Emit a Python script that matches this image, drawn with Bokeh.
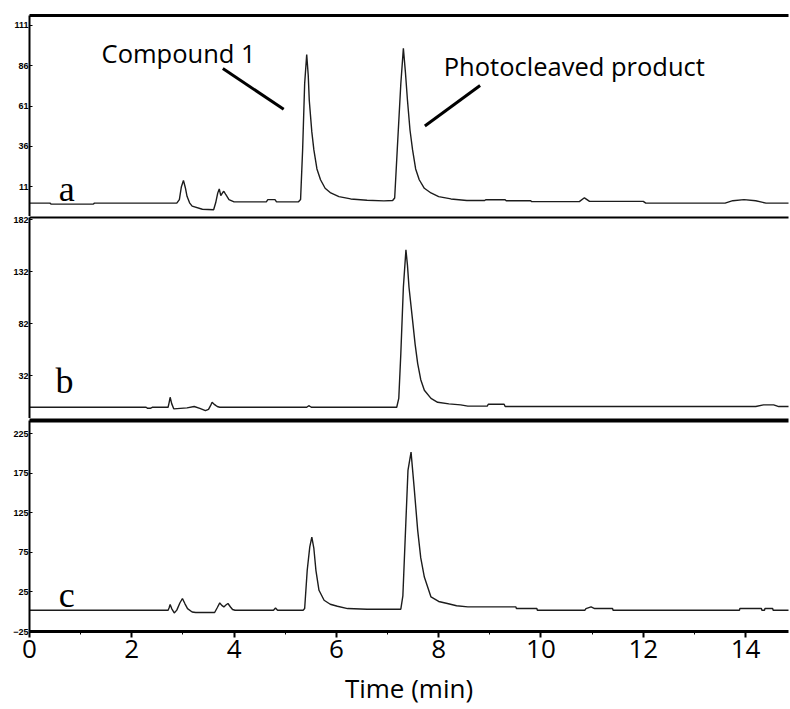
from bokeh.plotting import figure
from bokeh.models import Range1d, LinearAxis, FixedTicker, SingleIntervalTicker, Label, ColumnDataSource
from bokeh.layouts import column
from bokeh.embed import file_html
from bokeh.resources import INLINE

# ---------------- data ----------------
x_ticks_major = 2
time_range = [0, 14.84]

# trace a
time_a = [0, 0.40, 0.42, 1.25, 1.27, 2.88, 2.93, 2.97, 3.01, 3.05, 3.08, 3.13, 3.18, 3.38, 3.60,
          3.64, 3.68, 3.71, 3.74, 3.78, 3.80, 3.84, 3.90, 4.00, 4.63, 4.66, 4.80, 4.83, 5.26, 5.30,
          5.34, 5.38, 5.42, 5.45, 5.47, 5.52, 5.56, 5.62, 5.69, 5.78, 5.89, 6.05, 6.28, 6.60, 6.93,
          7.10, 7.14, 7.19, 7.26, 7.31, 7.35, 7.39, 7.44, 7.49, 7.55, 7.62, 7.72, 7.85, 8.00, 8.24,
          8.55, 8.90, 8.92, 9.30, 9.32, 9.80, 9.82, 10.75, 10.85, 10.95, 12.00, 12.05, 13.60, 13.75,
          13.97, 14.20, 14.40, 14.90]
signal_a = [0.8, 0.8, 0.2, 0.2, 0.8, 0.8, 3, 11, 14.9, 10, 5, 1, -1.1, -3.0, -3.3,
            1, 7, 9.6, 5.5, 7.5, 8.1, 6, 3, 1.6, 1.6, 3, 3, 1.6, 1.6, 3,
            33.8, 75, 93, 80, 64.6, 45, 33.8, 22, 15.3, 10, 7.1, 4.8, 3.4, 2.6, 2.2,
            2.4, 4, 33.8, 74.9, 96.8, 82, 64.6, 46, 33.8, 22, 15.3, 10, 7.1, 4.8, 3.4,
            2.4, 2.4, 2.9, 2.9, 2.3, 2.3, 1.7, 1.7, 4.1, 1.9, 1.9, 0.8, 0.8, 2.3,
            3.0, 2.3, 0.8, 0.8]

# trace b
time_b = [0, 2.28, 2.31, 2.36, 2.40, 2.71, 2.73, 2.75, 2.78, 2.82, 3.08, 3.22, 3.33, 3.44, 3.50,
          3.54, 3.57, 3.62, 3.67, 3.72, 5.42, 5.46, 5.51, 7.18, 7.22, 7.26, 7.31, 7.36, 7.39, 7.42,
          7.49, 7.54, 7.59, 7.65, 7.72, 7.85, 7.98, 8.20, 8.43, 8.57, 8.95, 8.97, 9.28, 9.30, 14.20,
          14.35, 14.55, 14.65, 14.90]
signal_b = [1.5, 1.5, 0.5, 0.5, 1.5, 1.5, 6, 11.1, 5, 0, 0.9, 2.2, 0.5, -1.7, -0.5,
            3, 6.3, 4, 2.2, 1.5, 1.5, 3.0, 1.5, 1.5, 10, 52.9, 116.9, 152.9, 138, 116.9,
            85.1, 62, 43.5, 28, 17.9, 10, 6.3, 4.8, 3.8, 2.6, 2.6, 4.4, 4.4, 2.2, 2.2,
            3.8, 3.8, 2.2, 2.2]

# trace c
time_c = [0, 2.71, 2.73, 2.75, 2.78, 2.83, 2.88, 2.94, 2.99, 3.04, 3.09, 3.18, 3.25, 3.62, 3.67,
          3.72, 3.76, 3.80, 3.84, 3.88, 3.93, 3.97, 4.02, 4.77, 4.81, 4.85, 5.35, 5.38, 5.43, 5.48,
          5.52, 5.56, 5.60, 5.66, 5.76, 5.88, 6.02, 6.22, 6.60, 7.26, 7.30, 7.36, 7.40, 7.46, 7.52,
          7.59, 7.65, 7.72, 7.85, 8.00, 8.17, 8.35, 8.57, 9.51, 9.52, 9.92, 9.93, 10.86, 10.88, 10.98,
          11.05, 11.40, 11.41, 13.88, 13.89, 14.31, 14.32, 14.37, 14.38, 14.53, 14.54, 14.90]
signal_c = [1.9, 1.9, 5, 9.1, 4, -1.5, 2, 11, 16.7, 10, 4, -0.3, -1, -1, 5,
            11.1, 8, 6.1, 8.5, 10.4, 6, 2.8, 1.9, 1.9, 4.8, 1.9, 1.9, 4, 52.4, 82,
            94.4, 80, 52.4, 27.1, 14.5, 9.5, 6.9, 4.0, 3.2, 3.2, 20, 115.5, 178.7, 201.8, 157.6,
            102.9, 68, 43.9, 18.7, 13, 10.4, 7.5, 6.1, 6.1, 4.0, 4.0, 1.9, 1.9, 4.0, 6.1,
            4.0, 4.0, 1.9, 1.9, 4.0, 4.0, 1.9, 1.9, 4.0, 4.0, 1.9, 1.9]

# y ranges and tick labels of the three panels
yrange_a = [-7.5, 117.2]
yticks_a = [11, 36, 61, 86, 111]
yrange_b = [-9.3, 184.0]
yticks_b = [32, 82, 132, 182]
yrange_c = [-25.0, 241.8]
yticks_c = [-25, 25, 75, 125, 175, 225]

panel_names = ["a", "b", "c"]
panel_name_x = [0.57, 0.51, 0.57]
panel_name_y = [9.7, 27.2, 20.7]

# annotations of panel a
ann_text = ["Compound 1", "Photocleaved product"]
ann_x = [1.41, 8.10]
ann_y = [94.0, 86.0]
lead_x0 = [3.78, 8.81]
lead_y0 = [84.3, 73.8]
lead_x1 = [4.97, 7.73]
lead_y1 = [59.0, 48.6]

# ---------------- plotting ----------------
W = 790
TRACE = "#1c1c1c"
xr = Range1d(*time_range)


def sep_axis(width):
    return LinearAxis(ticker=FixedTicker(ticks=[]), axis_line_width=width, axis_line_color="black",
                      major_tick_in=0, major_tick_out=0, minor_tick_in=0, minor_tick_out=0,
                      major_label_standoff=0, major_label_text_font_size="0px")


def make_panel(height, yr, yt, top, bottom, with_x):
    p = figure(width=W, height=height, x_range=xr, y_range=Range1d(*yr),
               output_backend="svg", toolbar_location=None,
               x_axis_location="below" if with_x else None, y_axis_location="left",
               min_border_left=29, min_border_right=2, min_border_top=top, min_border_bottom=bottom)
    p.outline_line_color = None
    p.xgrid.grid_line_color = None
    p.ygrid.grid_line_color = None
    p.background_fill_color = "white"
    p.border_fill_color = "white"
    ya = p.yaxis[0]
    ya.ticker = FixedTicker(ticks=yt)
    ya.axis_line_width = 2
    ya.axis_line_color = "black"
    ya.major_tick_in = 3
    ya.major_tick_out = 0
    ya.minor_tick_in = 0
    ya.minor_tick_out = 0
    ya.major_label_standoff = 1
    ya.major_label_text_font = "Liberation Sans"
    ya.major_label_text_font_size = "9px"
    ya.major_label_text_font_style = "bold"
    ya.major_label_text_color = "black"
    return p


pa = make_panel(216, yrange_a, yticks_a, 15, 0, False)
pa.add_layout(sep_axis(3), "above")
pb = make_panel(202, yrange_b, yticks_b, 1, 0, False)
pb.add_layout(sep_axis(2), "above")
pc = make_panel(291, yrange_c, yticks_c, 2, 78, True)
xa = pc.below[0]
pc.add_layout(sep_axis(4), "above")

xa.ticker = SingleIntervalTicker(interval=x_ticks_major, num_minor_ticks=2)
xa.axis_line_width = 3
xa.axis_line_color = "black"
xa.major_tick_out = 6
xa.major_tick_in = 0
xa.major_tick_line_width = 2
xa.minor_tick_out = 3
xa.minor_tick_in = 0
xa.major_label_standoff = 2
xa.major_label_text_font = "Open Sans"
xa.major_label_text_font_size = "26px"
xa.major_label_text_color = "black"
xa.axis_label = "Time (min)"
xa.axis_label_text_font = "Open Sans"
xa.axis_label_text_font_size = "26px"
xa.axis_label_text_font_style = "normal"
xa.axis_label_text_color = "black"
xa.axis_label_standoff = 9

for p, t, s in [(pa, time_a, signal_a), (pb, time_b, signal_b), (pc, time_c, signal_c)]:
    p.line(t, s, line_color=TRACE, line_width=1.4)

for p, name, nx, ny in zip([pa, pb, pc], panel_names, panel_name_x, panel_name_y):
    p.add_layout(Label(x=nx, y=ny, text=name, text_font="Liberation Serif", text_font_size="36px",
                       text_color="black", text_align="left", text_baseline="alphabetic"))

for txt, ax, ay in zip(ann_text, ann_x, ann_y):
    pa.add_layout(Label(x=ax, y=ay, text=txt, text_font="Open Sans", text_font_size="25.5px",
                        text_color="black", text_align="left", text_baseline="alphabetic"))

lead_src = ColumnDataSource(dict(x0=lead_x0, y0=lead_y0, x1=lead_x1, y1=lead_y1))
pa.segment(x0="x0", y0="y0", x1="x1", y1="y1", source=lead_src, line_color="black", line_width=3)

layout = column(pa, pb, pc, spacing=0)
open("out.html", "w").write(file_html(layout, INLINE))
